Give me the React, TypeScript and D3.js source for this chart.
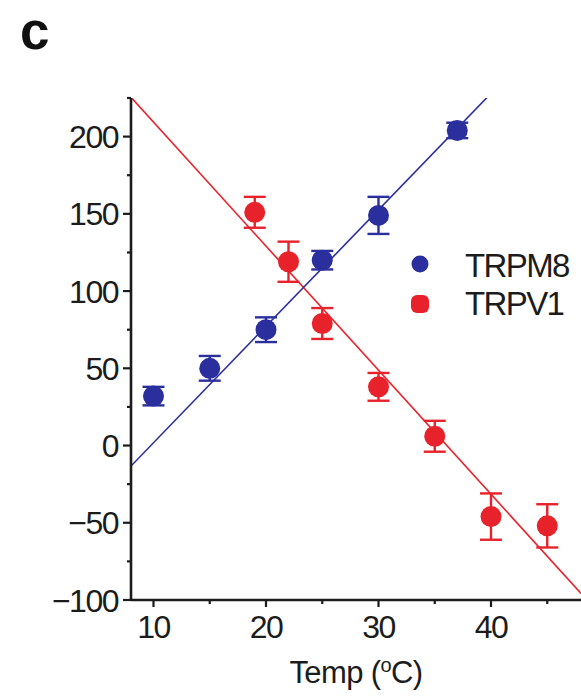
import React from "react";
import * as d3 from "d3";

// ---- data ----
const trpm8Temp = [10, 15, 20, 25, 30, 37];
const trpm8Value = [32, 50, 75, 120, 149, 204];
const trpm8Err = [6, 8, 8, 6, 12, 5];

const trpv1Temp = [19, 22, 25, 30, 35, 40, 45];
const trpv1Value = [151, 119, 79, 38, 6, -46, -52];
const trpv1Err = [10, 13, 10, 9, 10, 15, 14];

// linear fits: [slope, intercept]
const trpm8Fit = [7.54, -73.6];
const trpv1Fit = [-8.03, 289.7];

const xTicksMajor = [10, 20, 30, 40];
const xTicksMinor = [15, 25, 35, 45];
const yTicksMajor = [-100, -50, 0, 50, 100, 150, 200];
const yTicksMinor = [-75, -25, 25, 75, 125, 175, 225];

const seriesNames = ["TRPM8", "TRPV1"];

const BLUE = "#2b2f9e";
const RED = "#e8222b";
const INK = "#1c1c1c";
const FONT = "'Liberation Sans', Arial, sans-serif";

export default function App() {
  const W = 581, H = 696;
  const x = d3.scaleLinear().domain([8, 48]).range([131, 581]);
  const y = d3.scaleLinear().domain([-100, 225]).range([600, 98]);

  const fitLine = (fit: number[], color: string) => {
    const [m, b] = fit;
    const line = d3.line<number>().x((t) => x(t)).y((t) => y(m * t + b));
    return (
      <path
        d={line([8, 48]) || ""}
        stroke={color}
        strokeWidth={1.6}
        fill="none"
        clipPath="url(#plotClip)"
      />
    );
  };

  const errBars = (ts: number[], vs: number[], es: number[], color: string) =>
    ts.map((t, i) => {
      const cx = x(t);
      const top = y(vs[i] + es[i]);
      const bot = y(vs[i] - es[i]);
      return (
        <g key={"e" + i} stroke={color} strokeWidth={2.4}>
          <line x1={cx} x2={cx} y1={top} y2={bot} />
          <line x1={cx - 11} x2={cx + 11} y1={top} y2={top} />
          <line x1={cx - 11} x2={cx + 11} y1={bot} y2={bot} />
        </g>
      );
    });

  const dots = (ts: number[], vs: number[], color: string) =>
    ts.map((t, i) => <circle key={"c" + i} cx={x(t)} cy={y(vs[i])} r={10.5} fill={color} />);

  return (
    <svg
      width={W}
      height={H}
      style={{ position: "absolute", left: 0, top: 0, background: "#fff" }}
      fontFamily={FONT}
    >
      <defs>
        <clipPath id="plotClip">
          <rect x={131} y={y(225)} width={581 - 131} height={600 - y(225)} />
        </clipPath>
      </defs>
      <rect width={W} height={H} fill="#fff" />
      <text x={20} y={49} fontSize={53} fontWeight="bold" fill="#111">c</text>

      {/* fit lines */}
      {fitLine(trpv1Fit, RED)}
      {fitLine(trpm8Fit, BLUE)}

      {/* data */}
      {errBars(trpv1Temp, trpv1Value, trpv1Err, RED)}
      {dots(trpv1Temp, trpv1Value, RED)}
      {errBars(trpm8Temp, trpm8Value, trpm8Err, BLUE)}
      {dots(trpm8Temp, trpm8Value, BLUE)}

      {/* axes */}
      <g stroke={INK} strokeWidth={2.6}>
        <line x1={131} x2={131} y1={y(225)} y2={600} />
        <line x1={131} x2={581} y1={600} y2={600} />
      </g>
      <g stroke={INK} strokeWidth={2.2}>
        {yTicksMajor.map((v) => (
          <line key={"ym" + v} x1={123} x2={131} y1={y(v)} y2={y(v)} />
        ))}
        {yTicksMinor.map((v) => (
          <line key={"yn" + v} x1={127} x2={131} y1={y(v)} y2={y(v)} />
        ))}
        {xTicksMajor.map((v) => (
          <line key={"xm" + v} x1={x(v)} x2={x(v)} y1={600} y2={607} />
        ))}
        {xTicksMinor.map((v) => (
          <line key={"xn" + v} x1={x(v)} x2={x(v)} y1={600} y2={604} />
        ))}
      </g>
      <g fontSize={32} fill={INK} letterSpacing={-1.5}>
        {yTicksMajor.map((v) => (
          <text key={"yl" + v} x={118} y={y(v) + 11.5} textAnchor="end">
            {v < 0 ? "\u2212" + Math.abs(v) : String(v)}
          </text>
        ))}
        {xTicksMajor.map((v) => (
          <text key={"xl" + v} x={x(v)} y={638} textAnchor="middle">
            {String(v)}
          </text>
        ))}
      </g>
      <text x={356} y={683} fontSize={31} fill={INK} textAnchor="middle" letterSpacing={-0.6}>
        Temp (
        <tspan fontSize={20} dy={-11}>o</tspan>
        <tspan dy={11}>C)</tspan>
      </text>

      {/* legend */}
      <circle cx={420} cy={264} r={8.5} fill={BLUE} />
      <rect x={411} y={295} width={18} height={18} rx={6} fill={RED} />
      <g fontSize={33} fill={INK} letterSpacing={-1.6}>
        <text x={465} y={277}>{seriesNames[0]}</text>
        <text x={465} y={315}>{seriesNames[1]}</text>
      </g>
    </svg>
  );
}
